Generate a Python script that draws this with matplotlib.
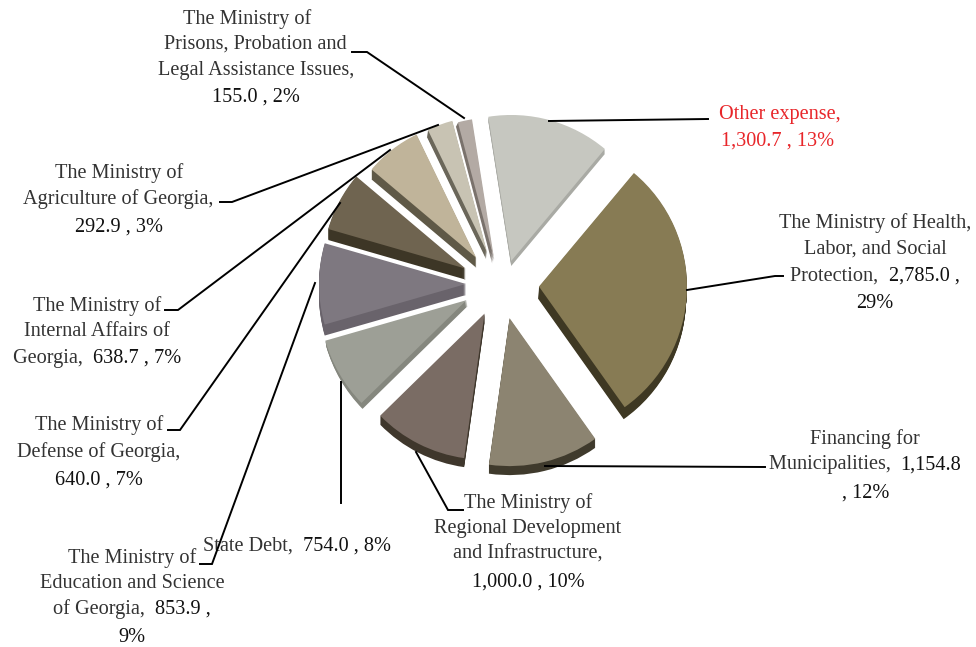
import matplotlib
matplotlib.use("Agg")
import matplotlib.pyplot as plt
from matplotlib.patches import Wedge

plt.rcParams["font.family"] = ["Liberation Serif", "DejaVu Serif"]

W, H = 976, 647

# ----------------------------- data ------------------------------------

categories = ["Other expense", "Health", "Municipalities", "Regional", "State Debt",
              "Education", "Defense", "Internal Affairs", "Agriculture", "Prisons"]
values = [1300.7, 2785.0, 1154.8, 1000.0, 754.0, 853.9, 640.0, 638.7, 292.9, 155.0]

top_colors = ["#c6c7c0", "#877b54", "#8c8471", "#7a6c64", "#9d9f96",
              "#7e7880", "#6f6450", "#c0b49a", "#c8c3b3", "#b3aaa4"]
side_colors = ["#a9aaa4", "#3e3823", "#3f3a2c", "#3f372c", "#85877e",
               "#69636b", "#3d3626", "#5f5947", "#6b675a", "#7a726c"]

# per wedge styling of the fake 3d look (explode is in pixels here)
explode = [27, 39, 32, 32, 34, 35, 39, 37, 37, 28]
radii = [146, 148, 148, 146, 147, 147, 143, 137, 136, 142]
depth = [5, 12, 9, 9, 6, 11, 11, 10, 7, 4]
shift = [0, -1, 0, 0, 1, 0, 0, 0, -1, -2]
nudge_x = [4, 0, 2, -1, -4, 1, 0, -1, 0, 0]
nudge_y = [0, 2, 0, 2, 4, 3, 0, 0, 0, 0]

# text per label: (center x, y, line), "|" splits name part from value part
labels = [
    (780, 113, "Other expense,|"), (778, 140, "1,300.7 , 13%|"),
    (875, 222, "The Ministry of Health,|"), (875, 248, "Labor, and Social|"),
    (875, 275, "Protection,  |2,785.0 ,"), (875, 302, "|29%"),
    (865, 438, "Financing for|"), (865, 464, "Municipalities,  |1,154.8"), (866, 492, "|, 12%"),
    (528, 502, "The Ministry of|"), (528, 527, "Regional Development|"),
    (528, 553, "and Infrastructure,|"), (528, 581, "|1,000.0 , 10%"),
    (297, 545, "State Debt,  |754.0 , 8%"),
    (132, 557, "The Ministry of|"), (132, 582, "Education and Science|"),
    (132, 608, "of Georgia,  |853.9 ,"), (132, 636, "|9%"),
    (99, 424, "The Ministry of|"), (99, 451, "Defense of Georgia,|"), (99, 479, "|640.0 , 7%"),
    (97, 305, "The Ministry of|"), (97, 331, "Internal Affairs of|"), (97, 357, "Georgia,  |638.7 , 7%"),
    (119, 172, "The Ministry of|"), (118, 198, "Agriculture of Georgia,|"), (119, 226, "|292.9 , 3%"),
    (247, 18, "The Ministry of|"), (255, 43, "Prisons, Probation and|"),
    (256, 69, "Legal Assistance Issues,|"), (256, 96, "|155.0 , 2%"),
]

leaders = [
    [(549, 121), (708, 119)],
    [(687, 290), (775, 276), (783, 276)],
    [(545, 466), (765, 467)],
    [(416, 452), (448, 510), (463, 510)],
    [(341, 382), (341, 503)],
    [(315, 283), (212, 564), (200, 564)],
    [(340, 203), (180, 430), (168, 430)],
    [(390, 150), (178, 310), (165, 310)],
    [(438, 125), (232, 202), (220, 202)],
    [(464, 118), (367, 52), (352, 52)],
]


# ----------------------------- helpers ---------------------------------


def draw_line(ax, renderer, cx, y, line, name_color, value_color):
    """Draw one centered label line, name part lighter than value part."""
    name, value = line.split("|")
    kw = dict(fontsize=14.6, va="center", ha="left")
    t1 = ax.text(0, H - y - 1, name, color=name_color, **kw)
    t2 = ax.text(0, H - y - 1, value, color=value_color, **kw)
    w1 = t1.get_window_extent(renderer).width if name.strip() else 0
    w2 = t2.get_window_extent(renderer).width if value else 0
    x0 = cx - (w1 + w2) / 2
    t1.set_x(x0)
    t2.set_x(x0 + w1)


# ----------------------------- figure ----------------------------------

fig = plt.figure(figsize=(W / 100, H / 100), dpi=100)
ax = fig.add_axes([0, 0, 1, 1])

wedges, _ = ax.pie(values, explode=explode, startangle=99, counterclock=False,
                   colors=top_colors, radius=146, center=(500, H - 287), frame=True)
ax.set_xlim(0, W)
ax.set_ylim(0, H)
ax.set_aspect("auto")
ax.axis("off")

for i, w in enumerate(wedges):
    cx, cy = w.center[0] + nudge_x[i], w.center[1] + nudge_y[i]
    w.set_center((cx, cy))
    w.set_radius(radii[i])
    w.set_zorder(5)
    # stack copies downwards for the side of the slice
    for d in range(1, depth[i] + 1):
        ax.add_patch(Wedge((cx + shift[i] * d / depth[i], cy - d),
                           radii[i], w.theta1, w.theta2,
                           facecolor=side_colors[i], edgecolor="none", zorder=4))

for pts in leaders:
    ax.plot([p[0] for p in pts], [H - p[1] for p in pts], color="black", lw=1.4,
            solid_joinstyle="miter", zorder=6)

renderer = fig.canvas.get_renderer()
for k, (cx, y, line) in enumerate(labels):
    red = k < 2
    draw_line(ax, renderer, cx, y, line,
              "#e8262a" if red else "#333333", "#e8262a" if red else "#111111")

fig.savefig("out.png", dpi=100)
